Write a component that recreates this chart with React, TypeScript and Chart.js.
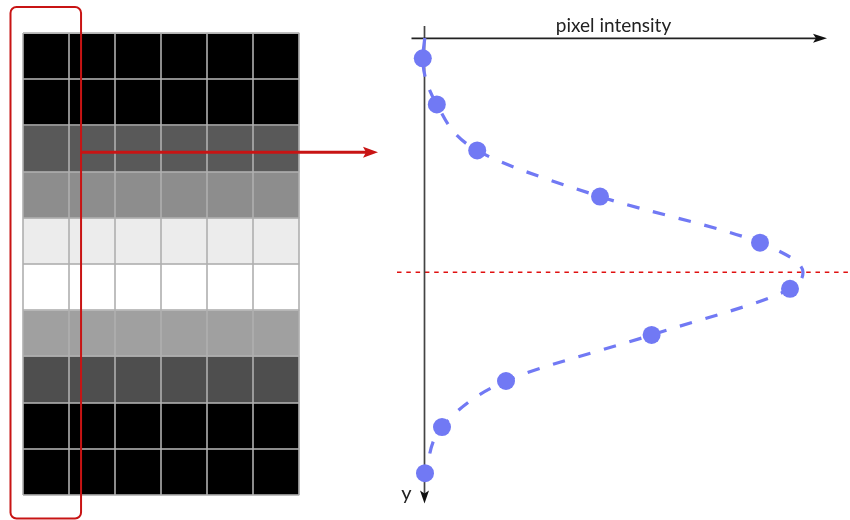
import React, { useEffect, useRef } from "react";
import { Chart, registerables } from "chart.js";

Chart.register(...registerables);

// ---- data ----
const columns = ["c1", "c2", "c3", "c4", "c5", "c6"];
const rowGray = [0, 0, 89, 141, 236, 255, 160, 78, 0, 0];
const selectedColumn = 0;
const arrowRow = 2.58;

const sampleRows = [0, 1, 2, 3, 4, 5, 6, 7, 8, 9];
const sampleIntensity = [-0.003, 0.032, 0.133, 0.44, 0.84, 0.915, 0.569, 0.205, 0.045, 0.0025];

const curveRows = [-0.44, 0, 1, 2, 3, 4, 4.64, 5, 6, 7, 8, 9];
const curveIntensity = [0.002, -0.003, 0.032, 0.133, 0.44, 0.84, 0.9475, 0.915, 0.569, 0.205, 0.045, 0.0025];
const peakRow = 4.64;

const xTitle = "pixel intensity";
const yTitle = "y";

const BLUE = "#7179f4";
const RED = "#c81414";
const FONT = "Lato, 'Open Sans', sans-serif";

function arrowHead(ctx: CanvasRenderingContext2D, tipX: number, tipY: number, dx: number, dy: number, len: number, half: number, notch: number) {
  const px = -dy, py = dx;
  const bx = tipX - dx * len, by = tipY - dy * len;
  ctx.beginPath();
  ctx.moveTo(tipX, tipY);
  ctx.lineTo(bx + px * half, by + py * half);
  ctx.lineTo(tipX - dx * (len - notch), tipY - dy * (len - notch));
  ctx.lineTo(bx - px * half, by - py * half);
  ctx.closePath();
  ctx.fill();
}

const gridPlugin = {
  id: "gridDecor",
  afterDraw(chart: any) {
    const { ctx, chartArea: a, scales } = chart;
    const xs = scales.x, ys = scales.y;
    const c0 = xs.getPixelForValue(selectedColumn);
    const c1 = xs.getPixelForValue(selectedColumn + 1);
    const colW = c1 - c0;
    const colLeft = c0 - colW / 2;
    const x0 = colLeft - 12.5, x1 = colLeft + colW + 12;
    const y0 = a.top - 26, y1 = a.bottom + 23.5;
    const r = 6;
    ctx.save();
    ctx.strokeStyle = RED;
    ctx.lineWidth = 2;
    ctx.beginPath();
    ctx.moveTo(x0 + r, y0);
    ctx.arcTo(x1, y0, x1, y1, r);
    ctx.arcTo(x1, y1, x0, y1, r);
    ctx.arcTo(x0, y1, x0, y0, r);
    ctx.arcTo(x0, y0, x1, y0, r);
    ctx.closePath();
    ctx.stroke();

    const ay = ys.getPixelForValue(arrowRow);
    const tip = 378;
    ctx.lineWidth = 3;
    ctx.beginPath();
    ctx.moveTo(x1, ay);
    ctx.lineTo(tip - 10, ay);
    ctx.stroke();
    ctx.fillStyle = RED;
    arrowHead(ctx, tip, ay, 1, 0, 15, 5.5, 3);
    ctx.restore();
  },
};

const profilePlugin = {
  id: "profileDecor",
  beforeDatasetsDraw(chart: any) {
    const { ctx, chartArea: a, scales } = chart;
    const xs = scales.x, ys = scales.y;
    const ox = xs.getPixelForValue(0) + 0.5;
    const oy = a.top + 0.3;
    ctx.save();
    const py = ys.getPixelForValue(peakRow);
    ctx.strokeStyle = "#e01010";
    ctx.lineWidth = 1.5;
    ctx.setLineDash([4.5, 4.8]);
    ctx.beginPath();
    ctx.moveTo(a.left - 27, py);
    ctx.lineTo(chart.width, py);
    ctx.stroke();
    ctx.setLineDash([]);

    ctx.strokeStyle = "#444";
    ctx.lineWidth = 1.7;
    ctx.beginPath();
    ctx.moveTo(ox, a.top - 12);
    ctx.lineTo(ox, a.bottom - 8);
    ctx.stroke();
    ctx.fillStyle = "#111";
    arrowHead(ctx, ox, a.bottom - 1.5, 0, 1, 13, 4.5, 3);

    ctx.strokeStyle = "#222";
    ctx.lineWidth = 1.7;
    ctx.beginPath();
    ctx.moveTo(a.left - 12.5, oy);
    ctx.lineTo(a.right - 2, oy);
    ctx.stroke();
    arrowHead(ctx, a.right + 3, oy, 1, 0, 14, 4.5, 3);

    ctx.fillStyle = "#222";
    ctx.textAlign = "center";
    ctx.textBaseline = "alphabetic";
    ctx.font = `19px ${FONT}`;
    ctx.fillText(xTitle, a.left + 189.5, a.top - 6.5);
    ctx.font = `20px ${FONT}`;
    ctx.fillText(yTitle, a.left - 17.5, a.bottom - 5);
    ctx.restore();
  },
};

export default function App() {
  const gridRef = useRef<HTMLCanvasElement>(null);
  const profRef = useRef<HTMLCanvasElement>(null);

  useEffect(() => {
    const gridLine = { color: "rgba(175,175,175,0.8)", lineWidth: 2 };
    const c1 = new Chart(gridRef.current as HTMLCanvasElement, {
      type: "bar",
      data: {
        labels: columns,
        datasets: rowGray.map((g, r) => ({
          label: `row ${r}`,
          data: columns.map(() => 1),
          backgroundColor: `rgb(${g},${g},${g})`,
          borderWidth: 0,
          barPercentage: 1,
          categoryPercentage: 1,
        })),
      },
      options: {
        responsive: false,
        animation: false,
        events: [],
        layout: { padding: { left: 23, top: 33, right: 850 - 299.3, bottom: 25 } },
        plugins: { legend: { display: false }, tooltip: { enabled: false } },
        scales: {
          x: {
            stacked: true,
            offset: true,
            ticks: { display: false },
            border: { display: false },
            grid: { ...gridLine, offset: true, drawTicks: false, z: 1 },
            afterFit: (s: any) => { s.height = 0; },
          },
          y: {
            stacked: true,
            min: 0,
            max: 10,
            reverse: true,
            ticks: { display: false, stepSize: 1 },
            border: { display: false },
            grid: { ...gridLine, drawTicks: false, z: 1 },
            afterFit: (s: any) => { s.width = 0; },
          },
        },
      } as any,
      plugins: [gridPlugin],
    });

    const c2 = new Chart(profRef.current as HTMLCanvasElement, {
      type: "line",
      data: {
        datasets: [
          {
            label: "samples",
            data: sampleRows.map((r, i) => ({ x: sampleIntensity[i], y: r })),
            showLine: false,
            pointRadius: 9,
            pointBackgroundColor: BLUE,
            pointBorderWidth: 0,
            clip: false,
          },
          {
            label: "profile",
            data: curveRows.map((r, i) => ({ x: curveIntensity[i], y: r })),
            borderColor: BLUE,
            borderWidth: 3.2,
            borderDash: [12.5, 14],
            pointRadius: 0,
            cubicInterpolationMode: "monotone",
            fill: false,
            clip: false,
          },
        ],
      },
      options: {
        responsive: false,
        animation: false,
        events: [],
        indexAxis: "y",
        elements: { line: { capBezierPoints: false } },
        layout: { padding: { left: 424, top: 38, right: 26, bottom: 15 } },
        plugins: { legend: { display: false }, tooltip: { enabled: false } },
        scales: {
          x: { type: "linear", min: 0, max: 1, display: false },
          y: { type: "linear", min: -0.44, max: 9.69, reverse: true, display: false },
        },
      } as any,
      plugins: [profilePlugin],
    });

    return () => {
      c1.destroy();
      c2.destroy();
    };
  }, []);

  const cv: React.CSSProperties = { position: "absolute", left: 0, top: 0, width: 850, height: 520 };
  return (
    <div style={{ position: "absolute", left: 0, top: 0, width: 850, height: 520, background: "#fff" }}>
      <canvas ref={gridRef} width={850} height={520} style={cv} />
      <canvas ref={profRef} width={850} height={520} style={cv} />
    </div>
  );
}
